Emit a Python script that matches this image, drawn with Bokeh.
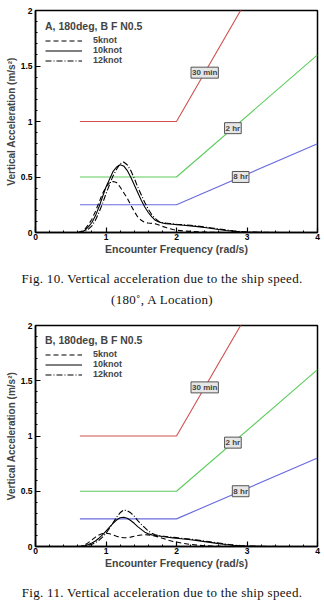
import numpy as np
from bokeh.plotting import figure
from bokeh.layouts import column
from bokeh.models import Div, Legend, LegendItem, Label, FixedTicker, Range1d, Title
from bokeh.embed import file_html
from bokeh.resources import INLINE

# Encounter frequency grid (rad/s)
freq = [0.60, 0.65, 0.70, 0.75, 0.80, 0.85, 0.90, 0.95, 1.00, 1.05, 1.10, 1.15,
        1.20, 1.25, 1.30, 1.35, 1.40, 1.45, 1.50, 1.55, 1.60, 1.65, 1.70, 1.75,
        1.80, 1.85, 1.90, 1.95, 2.00, 2.10, 2.20, 2.30, 2.40, 2.50, 2.60, 2.70,
        2.80, 2.90, 3.00, 3.20, 3.50, 4.00]

# Location A, vertical acceleration (m/s^2)
a_5knot = [0, 0.01, 0.03, 0.07, 0.12, 0.19, 0.27, 0.35, 0.41, 0.45, 0.46, 0.45,
           0.41, 0.36, 0.31, 0.25, 0.19, 0.14, 0.11, 0.09, 0.085, 0.082, 0.078, 0.068,
           0.055, 0.045, 0.035, 0.027, 0.02, 0.014, 0.01, 0.006, 0.004, 0.002, 0.001, 0,
           0, 0, 0, 0, 0, 0]
a_10knot = [0, 0.003, 0.02, 0.05, 0.09, 0.15, 0.23, 0.32, 0.41, 0.48, 0.55, 0.59,
            0.61, 0.60, 0.56, 0.50, 0.43, 0.36, 0.29, 0.23, 0.18, 0.14, 0.11, 0.095,
            0.085, 0.08, 0.077, 0.074, 0.071, 0.066, 0.06, 0.053, 0.045, 0.036, 0.027, 0.018,
            0.012, 0.007, 0.004, 0.001, 0, 0]
a_12knot = [0, 0, 0.01, 0.03, 0.06, 0.11, 0.18, 0.26, 0.35, 0.43, 0.51, 0.57,
            0.62, 0.635, 0.61, 0.56, 0.49, 0.41, 0.34, 0.27, 0.21, 0.16, 0.125, 0.10,
            0.09, 0.085, 0.081, 0.078, 0.075, 0.07, 0.065, 0.058, 0.05, 0.041, 0.032, 0.023,
            0.015, 0.009, 0.005, 0.002, 0, 0]

# Location B, vertical acceleration (m/s^2)
b_5knot = [0, 0.005, 0.015, 0.035, 0.06, 0.085, 0.105, 0.117, 0.12, 0.115, 0.104, 0.092,
           0.083, 0.079, 0.08, 0.085, 0.092, 0.099, 0.104, 0.106, 0.105, 0.10, 0.094, 0.085,
           0.075, 0.064, 0.054, 0.046, 0.04, 0.028, 0.019, 0.012, 0.007, 0.004, 0.002, 0.001,
           0, 0, 0, 0, 0, 0]
b_10knot = [0, 0.002, 0.008, 0.018, 0.032, 0.05, 0.075, 0.105, 0.14, 0.175, 0.21, 0.24,
            0.26, 0.265, 0.255, 0.235, 0.21, 0.18, 0.155, 0.13, 0.115, 0.105, 0.10, 0.095,
            0.09, 0.086, 0.082, 0.078, 0.075, 0.068, 0.061, 0.053, 0.044, 0.035, 0.026, 0.018,
            0.011, 0.007, 0.004, 0.001, 0, 0]
b_12knot = [0, 0, 0.004, 0.01, 0.02, 0.035, 0.055, 0.085, 0.12, 0.165, 0.215, 0.265,
            0.305, 0.33, 0.325, 0.305, 0.275, 0.235, 0.20, 0.17, 0.14, 0.12, 0.107, 0.10,
            0.095, 0.091, 0.087, 0.083, 0.08, 0.073, 0.066, 0.058, 0.049, 0.04, 0.031, 0.022,
            0.014, 0.009, 0.005, 0.002, 0, 0]

# Exposure limit lines
limit_freq = [0.63, 2.0, 4.0]
limit_30min = [1.0, 1.0, 3.2]
limit_2hr = [0.5, 0.5, 1.6]
limit_8hr = [0.25, 0.25, 0.8]
limit_names = ["30 min", "2 hr", "8 hr"]
limit_label_freq = [2.40, 2.80, 2.91]

speeds = ["5knot", "10knot", "12knot"]
x_ticks = [0, 1, 2, 3, 4]
y_ticks = [0, 0.5, 1, 1.5, 2]
y_tick_labels = ["0", "0.5", "1", "1.5", "2"]

SANS = "Liberation Sans"
LIMIT_COLORS = ["#d05050", "#5ccc5c", "#6a6ae0"]
DASHES = ["5 3", "solid", "6 2 1 2"]


def panel(title, series, height, ytitle_offset):
    p = figure(width=324, height=height, x_range=Range1d(0, 4), y_range=Range1d(0, 2),
               output_backend="svg", toolbar_location=None,
               min_border_left=35, min_border_right=7, min_border_top=10,
               min_border_bottom=26, background_fill_color="white",
               border_fill_color="white")
    p.grid.visible = False
    p.outline_line_color = "black"
    p.outline_line_width = 1.5

    p.xaxis.ticker = FixedTicker(ticks=x_ticks, minor_ticks=list(np.arange(0, 4.001, 0.2)))
    p.yaxis.ticker = FixedTicker(ticks=y_ticks, minor_ticks=list(np.arange(0, 2.001, 0.1)))
    p.yaxis.major_label_overrides = dict(zip(y_ticks, y_tick_labels))
    for ax in (p.xaxis, p.yaxis):
        ax.axis_line_color = "black"
        ax.axis_line_width = 1.5
        ax.major_tick_in = 5
        ax.major_tick_out = 0
        ax.minor_tick_in = 2
        ax.minor_tick_out = 0
        ax.major_tick_line_width = 1.2
        ax.major_label_text_font = SANS
        ax.major_label_text_font_size = "8.5px"
        ax.major_label_text_font_style = "bold"
        ax.major_label_text_color = "black"
    p.xaxis.major_label_standoff = 1
    p.yaxis.major_label_standoff = 3
    p.xaxis.axis_label = "Encounter Frequency (rad/s)"
    p.xaxis.axis_label_text_font = SANS
    p.xaxis.axis_label_text_font_size = "10.5px"
    p.xaxis.axis_label_text_font_style = "bold"
    p.xaxis.axis_label_standoff = 0

    # y-axis title, set left of the tick labels and nudged upward
    p.add_layout(Title(text="Vertical Acceleration (m/s²)", align="center",
                       offset=ytitle_offset, text_font=SANS, text_font_size="10px",
                       text_font_style="bold", standoff=2), "left")

    # limit lines with their tags
    for name, lim, col, lx in zip(limit_names, [limit_30min, limit_2hr, limit_8hr],
                                  LIMIT_COLORS, limit_label_freq):
        p.line(limit_freq, lim, line_color=col, line_width=1.1)
        p.add_layout(Label(x=lx, y=float(np.interp(lx, limit_freq, lim)), text=name,
                           text_font=SANS, text_font_size="8px", text_font_style="bold",
                           text_align="center", text_baseline="middle",
                           background_fill_color="#e6e6e6", border_line_color="#555555",
                           border_line_width=1, padding=1))

    items = []
    for lab, vals, dash in zip(speeds, series, DASHES):
        r = p.line(freq, vals, line_color="black", line_width=1.1, line_dash=dash)
        items.append(LegendItem(label=lab, renderers=[r]))

    # legend anchored by its bottom-left corner, in pixels from the frame's bottom-left
    legend = Legend(items=items, location=(10, 167), title=title,
                    title_text_font=SANS, title_text_font_size="10.5px",
                    title_text_font_style="bold", title_standoff=3,
                    label_text_font=SANS, label_text_font_size="9px",
                    label_text_font_style="bold",
                    glyph_width=37, glyph_height=9, label_height=9,
                    label_standoff=11, spacing=-1, padding=0, margin=0,
                    background_fill_alpha=0, border_line_alpha=0)
    p.add_layout(legend)
    return p


def caption(lines, height, pad):
    html = ("<div style=\"font-family:'Liberation Serif','Times New Roman',serif;"
            "font-size:13px;letter-spacing:0.3px;line-height:21px;text-align:center;"
            f"width:324px;padding-top:{pad}px;color:#111\">" + "<br>".join(lines) + "</div>")
    return Div(text=html, width=324, height=height, margin=(0, 0, 0, 0))


p1 = panel("A, 180deg, B F N0.5", [a_5knot, a_10knot, a_12knot], 258, 18)
c1 = caption(["Fig. 10. Vertical acceleration due to the ship speed.",
              "(180˚, A Location)"], 57, 10)
p2 = panel("B, 180deg, B F N0.5", [b_5knot, b_10knot, b_12knot], 257, 16)
c2 = caption(["Fig. 11. Vertical acceleration due to the ship speed."], 34, 10)

page = column(p1, c1, p2, c2, spacing=0)
open("out.html", "w").write(file_html(page, INLINE))
